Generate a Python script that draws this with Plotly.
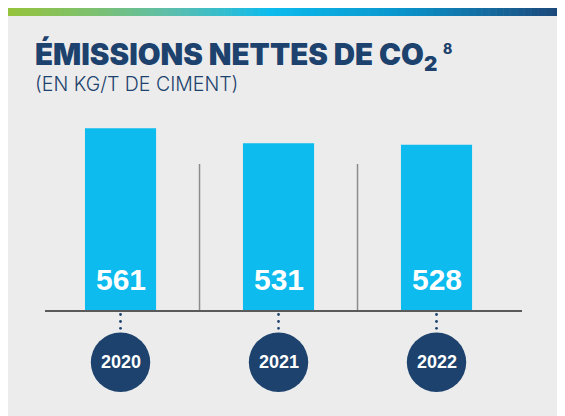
import plotly.graph_objects as go

years = ["2020", "2021", "2022"]
values = [561, 531, 528]
title_main = "ÉMISSIONS NETTES DE CO<sub>2</sub>"
title_note = "8"
subtitle = "(EN KG/T DE CIMENT)"

OFF = 8  # page body margin
W, H = 557, 408
# plot area in page pixels: x 45..522, y 100..310
L, R, T, B = 45 - OFF, OFF + W - 522, 100 - OFF, OFF + H - 310
PW, PH = W - L - R, H - T - B

def px_x(px):
    return (px - OFF - L) / PW

def px_y(py):
    return (OFF + H - B - py) / PH

NAVY = "#1c426d"
CYAN = "#0dbbee"

xs = list(range(len(years)))
fig = go.Figure(go.Bar(x=xs, y=values, width=0.45, marker=dict(color=CYAN, line=dict(width=0)),
                       hoverinfo="skip"))

shapes = []
# gradient bar
stops = [(0.0, (150, 195, 60)), (0.15, (125, 192, 110)), (0.3, (90, 190, 175)),
         (0.47, (13, 187, 237)), (0.7, (10, 150, 205)), (1.0, (29, 68, 118))]
def grad(t):
    for (t0, c0), (t1, c1) in zip(stops[:-1], stops[1:]):
        if t0 <= t <= t1:
            f = (t - t0) / (t1 - t0)
            return "rgb(%d,%d,%d)" % tuple(round(c0[k] + (c1[k] - c0[k]) * f) for k in range(3))
    return "rgb(29,68,118)"
N = 80
x_start, x_end = 8, 566
for i in range(N):
    a = x_start + (x_end - x_start) * i / N
    b = x_start + (x_end - x_start) * (i + 1) / N + 0.6
    shapes.append(dict(type="rect", xref="paper", yref="paper", x0=px_x(a), x1=px_x(b),
                       y0=px_y(16), y1=px_y(7), fillcolor=grad((i + 0.5) / N),
                       line=dict(width=0), layer="below"))
# separators
for sx in [0.5, 1.5]:
    shapes.append(dict(type="line", xref="x", yref="paper", x0=sx, x1=sx, y0=0, y1=px_y(164),
                       line=dict(color="#8c8c8c", width=1.5)))
# dots and circles
for i in xs:
    for dy in [314.5, 321.5, 328.3]:
        shapes.append(dict(type="circle", xref="x", yref="paper", xsizemode="pixel", ysizemode="pixel",
                           xanchor=i, yanchor=px_y(dy), x0=-1.4, x1=1.4, y0=-1.4, y1=1.4,
                           fillcolor=NAVY, line=dict(width=0)))
    shapes.append(dict(type="circle", xref="x", yref="paper", xsizemode="pixel", ysizemode="pixel",
                       xanchor=i, yanchor=px_y(362.3), x0=-29.7, x1=29.7, y0=-29.7, y1=29.7,
                       fillcolor=NAVY, line=dict(width=0)))

annotations = []
annotations.append(dict(xref="paper", yref="paper", x=px_x(33), y=px_y(56), xanchor="left", yanchor="middle",
                        text=title_main, showarrow=False,
                        font=dict(family="Inter", size=29.5, color=NAVY, weight=900)))
annotations.append(dict(xref="paper", yref="paper", x=px_x(441), y=px_y(49), xanchor="left", yanchor="middle",
                        text=title_note, showarrow=False,
                        font=dict(family="Inter", size=14, color=NAVY, weight=800)))
annotations.append(dict(xref="paper", yref="paper", x=px_x(33), y=px_y(84), xanchor="left", yanchor="middle",
                        text=subtitle, showarrow=False,
                        font=dict(family="Inter", size=19.5, color=NAVY, weight=300)))
for i, (yr, v) in enumerate(zip(years, values)):
    annotations.append(dict(xref="x", yref="paper", x=i, y=px_y(279), text=str(v), showarrow=False,
                            xanchor="center", yanchor="middle",
                            font=dict(family="Liberation Sans", size=30, color="white", weight="bold")))
    annotations.append(dict(xref="x", yref="paper", x=i, y=px_y(362), text=yr, showarrow=False,
                            xanchor="center", yanchor="middle",
                            font=dict(family="Liberation Sans", size=18, color="white", weight="bold")))

fig.update_layout(
    width=W, height=H, margin=dict(l=L, r=R, t=T, b=B),
    paper_bgcolor="#ececec", plot_bgcolor="rgba(0,0,0,0)",
    showlegend=False, shapes=shapes, annotations=annotations,
    xaxis=dict(range=[-0.478, 2.541], showgrid=False, zeroline=False, showticklabels=False,
               showline=True, linecolor="#5a5a5a", linewidth=2, ticks="", fixedrange=True),
    yaxis=dict(range=[200, 617], visible=False, fixedrange=True),
)
fig.write_html("out.html", config={"displayModeBar": False})
